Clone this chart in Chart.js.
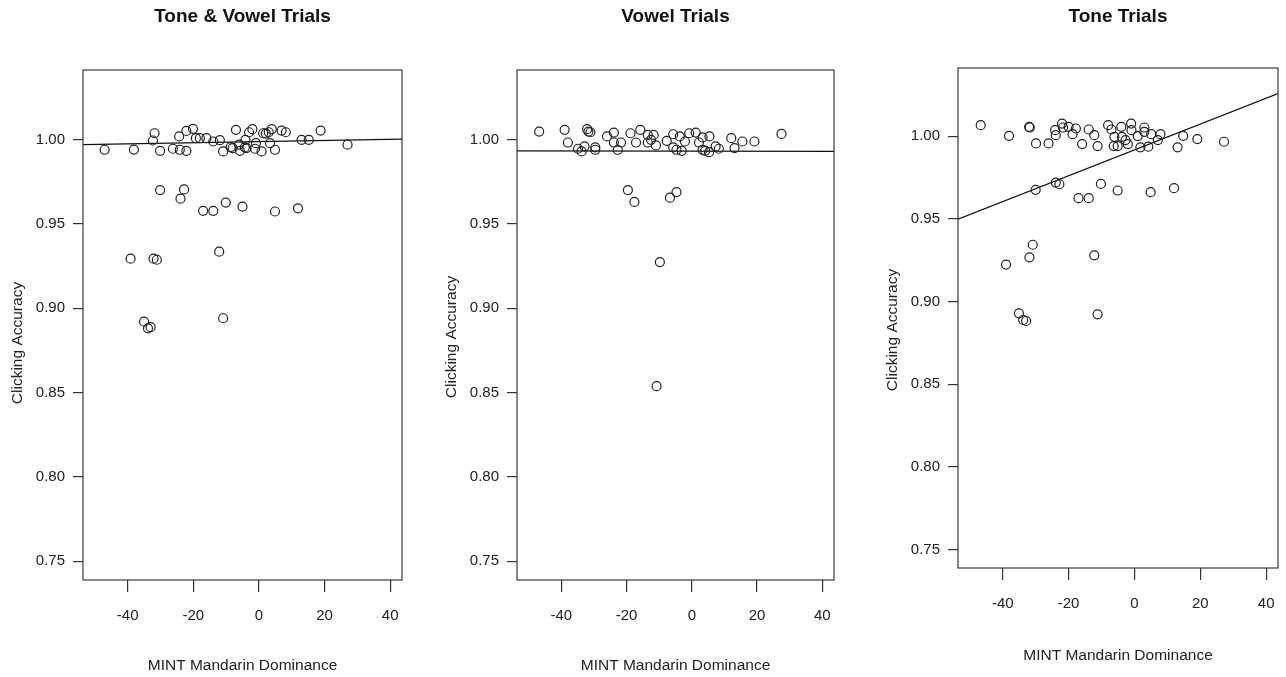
<!DOCTYPE html>
<html>
<head>
<meta charset="utf-8">
<title>Clicking Accuracy by MINT Mandarin Dominance</title>
<script src="https://cdn.jsdelivr.net/npm/chart.js@4.4.1/dist/chart.umd.min.js"></script>
<style>
  html, body { margin: 0; padding: 0; background: #fff; }
  body { width: 1286px; height: 677px; position: relative; overflow: hidden; }
  canvas { position: absolute; top: 0; }
</style>
</head>
<body>
<canvas id="panel1" width="430" height="677" style="left:0px"></canvas>
<canvas id="panel2" width="428" height="677" style="left:434px"></canvas>
<canvas id="panel3" width="411" height="667" style="left:875px"></canvas>
<script>
// tick labels shared by all three panels
const xTicks = [-40, -20, 0, 20, 40];
const yTicks = [0.75, 0.80, 0.85, 0.90, 0.95, 1.00];
const panelTitles = ['Tone & Vowel Trials', 'Vowel Trials', 'Tone Trials'];

// Tone & Vowel trials
const toneVowelX = [-47.0, -38.1, -31.8, -32.3, -30.1, -26.2, -24.1, -22.1, -24.3, -22.1, -20.1, -19.2, -18.0, -16.0,
  -13.9, -11.9, -10.9, -8.0, -7.0, -6.0, -5.8, -4.3, -4.1, -3.0, -2.0, -1.2, -0.9, 0.8, 2.1, 3.0, 3.9, 3.4, 4.9,
  6.9, 8.2, 13.0, 15.2, 18.8, 27.0, -3.8, 1.3, -8.6,
  -30.1, -22.8, -23.9, -17.0, -13.9, -10.1, -5.0, 4.9, 11.9, -39.1, -32.1, -31.1, -12.1, -35.0, -33.8, -33.0, -10.9];
const toneVowelY = [0.9939, 0.9940, 1.0037, 0.9994, 0.9933, 0.9945, 0.9939, 0.9933, 1.0018, 1.0051, 1.0063, 1.0008,
  1.0008, 1.0008, 0.9988, 0.9996, 0.9929, 0.9949, 1.0057, 0.9969, 0.9933, 0.9953, 0.9998, 1.0043, 1.0061, 0.9945,
  0.9978, 0.9929, 1.0035, 1.0043, 1.0061, 0.9978, 0.9939, 1.0053, 1.0043, 0.9998, 0.9998, 1.0053, 0.9969, 0.9949,
  1.0037, 0.9955,
  0.9700, 0.9704, 0.9649, 0.9577, 0.9577, 0.9626, 0.9602, 0.9573, 0.9592, 0.9293, 0.9293, 0.9287, 0.9335, 0.8920,
  0.8880, 0.8887, 0.8940];

// Vowel trials
const vowelX = [-46.8, -39.0, -38.0, -34.9, -33.8, -32.9, -32.1, -31.7, -31.1, -29.6, -29.6, -26.0, -23.9, -23.9,
  -22.7, -21.7, -18.8, -17.1, -15.8, -13.5, -13.5, -12.5, -11.7, -11.0, -7.7, -5.7, -5.7, -4.7, -3.7, -3.1, -2.1,
  -0.8, 1.2, 2.2, 3.3, 3.3, 4.1, 5.4, 5.3, 7.3, 8.3, 12.1, 13.1, 15.5, 19.2, 27.5,
  -19.6, -17.6, -6.7, -4.7, -9.8, -10.8];
const vowelY = [1.0047, 1.0057, 0.9982, 0.9945, 0.9929, 0.9959, 1.0061, 1.0047, 1.0043, 0.9953, 0.9939, 1.0018,
  1.0041, 0.9982, 0.9939, 0.9982, 1.0037, 0.9982, 1.0057, 1.0027, 0.9982, 0.9998, 1.0027, 0.9965, 0.9992, 1.0031,
  0.9953, 0.9939, 1.0018, 0.9933, 0.9988, 1.0037, 1.0041, 0.9982, 1.0012, 0.9939, 0.9933, 1.0018, 0.9925, 0.9959,
  0.9945, 1.0008, 0.9949, 0.9988, 0.9988, 1.0033,
  0.9700, 0.9630, 0.9655, 0.9688, 0.9273, 0.8537];

// Tone trials
const toneX = [-46.7, -38.1, -32.0, -31.8, -29.9, -26.1, -24.1, -23.9, -22.0, -21.7, -20.0, -18.8, -17.8, -15.9,
  -13.9, -12.2, -11.2, -8.0, -7.0, -6.1, -6.3, -5.1, -4.0, -3.8, -2.7, -2.0, -1.0, -0.9, 1.0, 1.8, 3.0, 3.0, 4.2,
  5.1, 7.1, 7.9, 13.1, 14.8, 19.1, 27.2,
  -30.0, -23.9, -22.8, -17.0, -13.9, -10.2, -5.1, 4.9, 12.0, -30.9, -31.9, -39.0, -12.2, -35.1, -33.8, -32.9, -11.2];
const toneY = [1.0066, 1.0002, 1.0056, 1.0052, 0.9956, 0.9956, 1.0036, 1.0006, 1.0076, 1.0052, 1.0056, 1.0012,
  1.0046, 0.9952, 1.0040, 1.0006, 0.9940, 1.0066, 1.0040, 0.9996, 0.9940, 0.9940, 1.0056, 0.9996, 0.9976, 0.9952,
  1.0076, 1.0036, 1.0000, 0.9932, 1.0052, 1.0026, 0.9936, 1.0012, 0.9976, 1.0012, 0.9932, 1.0002, 0.9982, 0.9966,
  0.9675, 0.9719, 0.9709, 0.9625, 0.9625, 0.9711, 0.9671, 0.9661, 0.9685, 0.9343, 0.9267, 0.9223, 0.9279, 0.8928,
  0.8888, 0.8882, 0.8922];

// fitted lines, read at the left and right edges of each plot
const fitX = [-53.6, 43.6];
const toneVowelFitY = [0.9969, 1.0002];
const vowelFitY = [0.9933, 0.9929];
const toneFitY = [0.9498, 1.0257];

const FONT = "'Liberation Sans', Arial, Helvetica, sans-serif";
const NARROW = "'Liberation Sans Narrow', 'Arial Narrow'";
const INK = '#222';

// use a condensed bold face for the panel titles if one is installed
function pickTitleFont() {
  const c = document.createElement('canvas').getContext('2d');
  c.font = 'bold 20px monospace';
  const plain = c.measureText('Tone & Vowel Trials').width;
  c.font = 'bold 20px ' + NARROW + ', monospace';
  const narrow = c.measureText('Tone & Vowel Trials').width;
  if (Math.abs(plain - narrow) > 1) {
    return { family: NARROW + ', ' + FONT, size: 22, weight: 'bold' };
  }
  return { family: FONT, size: 19, weight: 'bold' };
}
const titleFont = pickTitleFont();

// R-style box around the plot region
const boxPlugin = {
  id: 'box',
  afterDraw(chart) {
    const a = chart.chartArea;
    const ctx = chart.ctx;
    ctx.save();
    ctx.strokeStyle = '#3a3a3a';
    ctx.lineWidth = 1.2;
    ctx.strokeRect(a.left, a.top, a.right - a.left, a.bottom - a.top);
    ctx.restore();
  }
};

// rotated y-axis label, placed a little below the plot centre like the original
const yLabelPlugin = {
  id: 'yLabel',
  afterDraw(chart, args, opts) {
    const a = chart.chartArea;
    const ctx = chart.ctx;
    ctx.save();
    ctx.translate(opts.x, (a.top + a.bottom) / 2 + opts.shift);
    ctx.rotate(-Math.PI / 2);
    ctx.font = '15.5px ' + FONT;
    ctx.fillStyle = INK;
    ctx.textAlign = 'center';
    ctx.textBaseline = 'middle';
    ctx.fillText(opts.text, 0, 0);
    ctx.restore();
  }
};

function toPoints(xs, ys) {
  return xs.map((x, i) => ({ x: x, y: ys[i] }));
}

function makePanel(id, title, xs, ys, fitY, padRight, titleGap, labelShift, xAxisHeight) {
  const ctx = document.getElementById(id).getContext('2d');
  return new Chart(ctx, {
    type: 'scatter',
    data: {
      datasets: [
        {
          data: toPoints(xs, ys),
          pointStyle: 'circle',
          pointRadius: 4.5,
          pointHoverRadius: 4.5,
          borderColor: INK,
          borderWidth: 1.2,
          backgroundColor: 'rgba(0,0,0,0)'
        },
        {
          type: 'line',
          data: toPoints(fitX, fitY),
          borderColor: '#111',
          borderWidth: 1.2,
          pointRadius: 0,
          fill: false
        }
      ]
    },
    options: {
      responsive: false,
      animation: false,
      events: [],
      layout: { padding: { left: 0, right: padRight, top: 0, bottom: 0 } },
      plugins: {
        legend: { display: false },
        tooltip: { enabled: false },
        title: {
          display: true,
          text: title,
          fullSize: false,
          color: '#111',
          font: titleFont,
          padding: { top: 5, bottom: titleGap }
        },
        yLabel: { text: 'Clicking Accuracy', x: 18, shift: labelShift }
      },
      scales: {
        x: {
          type: 'linear',
          min: -53.6,
          max: 43.6,
          afterBuildTicks: (scale) => { scale.ticks = xTicks.map(v => ({ value: v })); },
          afterFit: (scale) => {
            scale.height = xAxisHeight;
            // labels never reach the edges, so don't let them shrink the plot
            scale.paddingLeft = 0;
            scale.paddingRight = 0;
          },
          border: { display: false },
          grid: { drawOnChartArea: false, drawTicks: true, tickLength: 12, color: '#333', lineWidth: 1.2 },
          ticks: { color: INK, padding: 15, maxRotation: 0, font: { family: FONT, size: 15 },
            callback: (v) => String(v) },
          title: { display: true, text: 'MINT Mandarin Dominance', color: INK,
            font: { family: FONT, size: 15.5 }, padding: { top: 0, bottom: 2 } }
        },
        y: {
          type: 'linear',
          min: 0.7388,
          max: 1.0412,
          afterBuildTicks: (scale) => { scale.ticks = yTicks.map(v => ({ value: v })); },
          afterFit: (scale) => {
            scale.width = 83;
            scale.paddingTop = 0;
            scale.paddingBottom = 0;
          },
          border: { display: false },
          grid: { drawOnChartArea: false, drawTicks: true, tickLength: 10, color: '#333', lineWidth: 1.2 },
          ticks: { color: INK, padding: 8, font: { family: FONT, size: 15 },
            callback: (v) => Number(v).toFixed(2) }
        }
      }
    },
    plugins: [boxPlugin, yLabelPlugin]
  });
}

const titleTop = 5 + titleFont.size * 1.2;
makePanel('panel1', panelTitles[0], toneVowelX, toneVowelY, toneVowelFitY, 28, 70 - titleTop, 18, 97);
makePanel('panel2', panelTitles[1], vowelX, vowelY, vowelFitY, 28, 70 - titleTop, 12, 97);
makePanel('panel3', panelTitles[2], toneX, toneY, toneFitY, 8, 68 - titleTop, 12, 99);
</script>
</body>
</html>
